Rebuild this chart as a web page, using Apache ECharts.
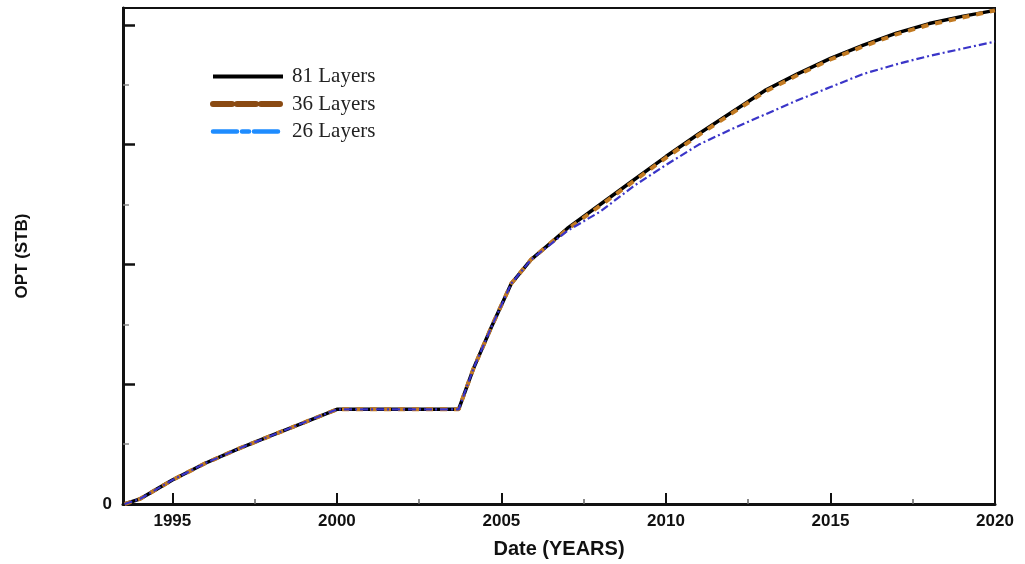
<!DOCTYPE html>
<html>
<head>
<meta charset="utf-8">
<script src="https://cdn.jsdelivr.net/npm/echarts@6/dist/echarts.min.js"></script>
<style>
  html, body { margin: 0; padding: 0; background: #ffffff; }
  #chart { width: 1025px; height: 564px; }
</style>
</head>
<body>
<div id="chart"></div>
<script>
// Cumulative oil production over time for three vertical layer refinements
const years = [1993.55, 1994, 1994.5, 1995, 1996, 1997, 1998, 1999, 2000, 2001, 2002, 2003, 2003.7,
  2004.15, 2004.7, 2005.3, 2005.9, 2006.5, 2007, 2008, 2009, 2010, 2011, 2012, 2013, 2014, 2015,
  2016, 2017, 2018, 2019, 2020];

const opt81 = [0, 0.04, 0.12, 0.20, 0.34, 0.46, 0.57, 0.68, 0.79, 0.79, 0.79, 0.79, 0.79,
  1.13, 1.48, 1.84, 2.04, 2.18, 2.30, 2.50, 2.70, 2.90, 3.09, 3.27, 3.45, 3.59, 3.72,
  3.83, 3.93, 4.01, 4.07, 4.12];

const opt36 = [0, 0.04, 0.12, 0.20, 0.34, 0.46, 0.57, 0.68, 0.79, 0.79, 0.79, 0.79, 0.79,
  1.13, 1.48, 1.84, 2.04, 2.18, 2.29, 2.49, 2.69, 2.89, 3.08, 3.26, 3.44, 3.58, 3.71,
  3.82, 3.92, 4.00, 4.06, 4.12];

const opt26 = [0, 0.04, 0.12, 0.20, 0.34, 0.46, 0.57, 0.68, 0.79, 0.79, 0.79, 0.79, 0.79,
  1.13, 1.48, 1.84, 2.04, 2.17, 2.28, 2.44, 2.65, 2.83, 3.00, 3.13, 3.25, 3.37, 3.48,
  3.59, 3.67, 3.74, 3.80, 3.86];

const seriesNames = ['81 Layers', '36 Layers', '26 Layers'];
const majorYears = [1995, 2000, 2005, 2010, 2015, 2020];
const minorYears = [1997.5, 2002.5, 2007.5, 2012.5, 2017.5];
const majorOpt = [0, 1, 2, 3, 4];
const minorOpt = [0.5, 1.5, 2.5, 3.5];
const optLabels = [0];

const X_MIN = 1993.5, X_MAX = 2020, Y_MIN = 0, Y_MAX = 4.14;

const pairs = vals => years.map((y, i) => [y, vals[i]]);
const sans = 'Liberation Sans, Arial, sans-serif';
const tickFont = { fontFamily: sans, fontWeight: 'bold', fontSize: 17, color: '#111' };

const chart = echarts.init(document.getElementById('chart'), null, { renderer: 'canvas' });

chart.setOption({
  backgroundColor: '#ffffff',
  animation: false,
  grid: {
    left: 123, right: 30, top: 8, bottom: 57,
    show: true, borderColor: '#111', borderWidth: 2, backgroundColor: 'transparent'
  },
  legend: {
    orient: 'vertical',
    left: 205,
    top: 61,
    itemWidth: 70,
    itemHeight: 14,
    itemGap: 6.5,
    textStyle: { fontFamily: 'Liberation Serif, Times New Roman, serif', fontSize: 21, color: '#222', padding: [0, 0, 0, 4] },
    data: [
      { name: seriesNames[0], lineStyle: { color: '#000', width: 4, type: 'solid' }, itemStyle: { opacity: 0 } },
      { name: seriesNames[1], lineStyle: { color: '#8a4a12', width: 6, type: [19, 5], cap: 'round' }, itemStyle: { opacity: 0 } },
      { name: seriesNames[2], lineStyle: { color: '#1e8cff', width: 4.5, type: [24, 5, 7, 5], cap: 'round' }, itemStyle: { opacity: 0 } }
    ]
  },
  xAxis: [
    {
      type: 'value', min: X_MIN, max: X_MAX,
      name: 'Date (YEARS)', nameLocation: 'middle', nameGap: 35,
      nameTextStyle: { fontFamily: sans, fontWeight: 'bold', fontSize: 20, color: '#111' },
      axisLine: { show: true, onZero: false, lineStyle: { color: '#111', width: 3 } },
      axisTick: { show: true, inside: true, length: 11, customValues: majorYears, lineStyle: { color: '#111', width: 2 } },
      axisLabel: { show: true, customValues: majorYears, margin: 9, formatter: v => String(v), ...tickFont },
      splitLine: { show: false }
    },
    {
      type: 'value', min: X_MIN, max: X_MAX, position: 'bottom',
      axisLine: { show: false },
      axisTick: { show: true, inside: true, length: 5, customValues: minorYears, lineStyle: { color: '#666', width: 1.5 } },
      axisLabel: { show: false },
      splitLine: { show: false }
    }
  ],
  yAxis: [
    {
      type: 'value', min: Y_MIN, max: Y_MAX,
      name: 'OPT (STB)', nameLocation: 'middle', nameGap: 92, nameRotate: 90,
      nameTextStyle: { fontFamily: sans, fontWeight: 'bold', fontSize: 17, color: '#111' },
      axisLine: { show: true, onZero: false, lineStyle: { color: '#111', width: 3 } },
      axisTick: { show: true, inside: true, length: 12, customValues: majorOpt, lineStyle: { color: '#111', width: 2.5 } },
      axisLabel: { show: true, customValues: optLabels, margin: 11, formatter: v => String(v), ...tickFont },
      splitLine: { show: false }
    },
    {
      type: 'value', min: Y_MIN, max: Y_MAX, position: 'left',
      axisLine: { show: false },
      axisTick: { show: true, inside: true, length: 6, customValues: minorOpt, lineStyle: { color: '#888', width: 1.5 } },
      axisLabel: { show: false },
      splitLine: { show: false }
    }
  ],
  series: [
    {
      name: seriesNames[0], type: 'line', xAxisIndex: 0, yAxisIndex: 0,
      data: pairs(opt81), symbol: 'none', smooth: false,
      lineStyle: { color: '#000', width: 3.5 }, itemStyle: { color: '#000' }, z: 2
    },
    {
      name: seriesNames[1], type: 'line', xAxisIndex: 0, yAxisIndex: 0,
      data: pairs(opt36), symbol: 'none', smooth: false,
      lineStyle: { color: '#c27a22', width: 4, type: [7, 7] }, itemStyle: { color: '#c27a22' }, z: 3
    },
    {
      name: seriesNames[2], type: 'line', xAxisIndex: 0, yAxisIndex: 0,
      data: pairs(opt26), symbol: 'none', smooth: false,
      lineStyle: { color: '#3a35c8', width: 2.2, type: [8, 3, 2, 3] }, itemStyle: { color: '#3a35c8' }, z: 4
    }
  ]
});
</script>
</body>
</html>
